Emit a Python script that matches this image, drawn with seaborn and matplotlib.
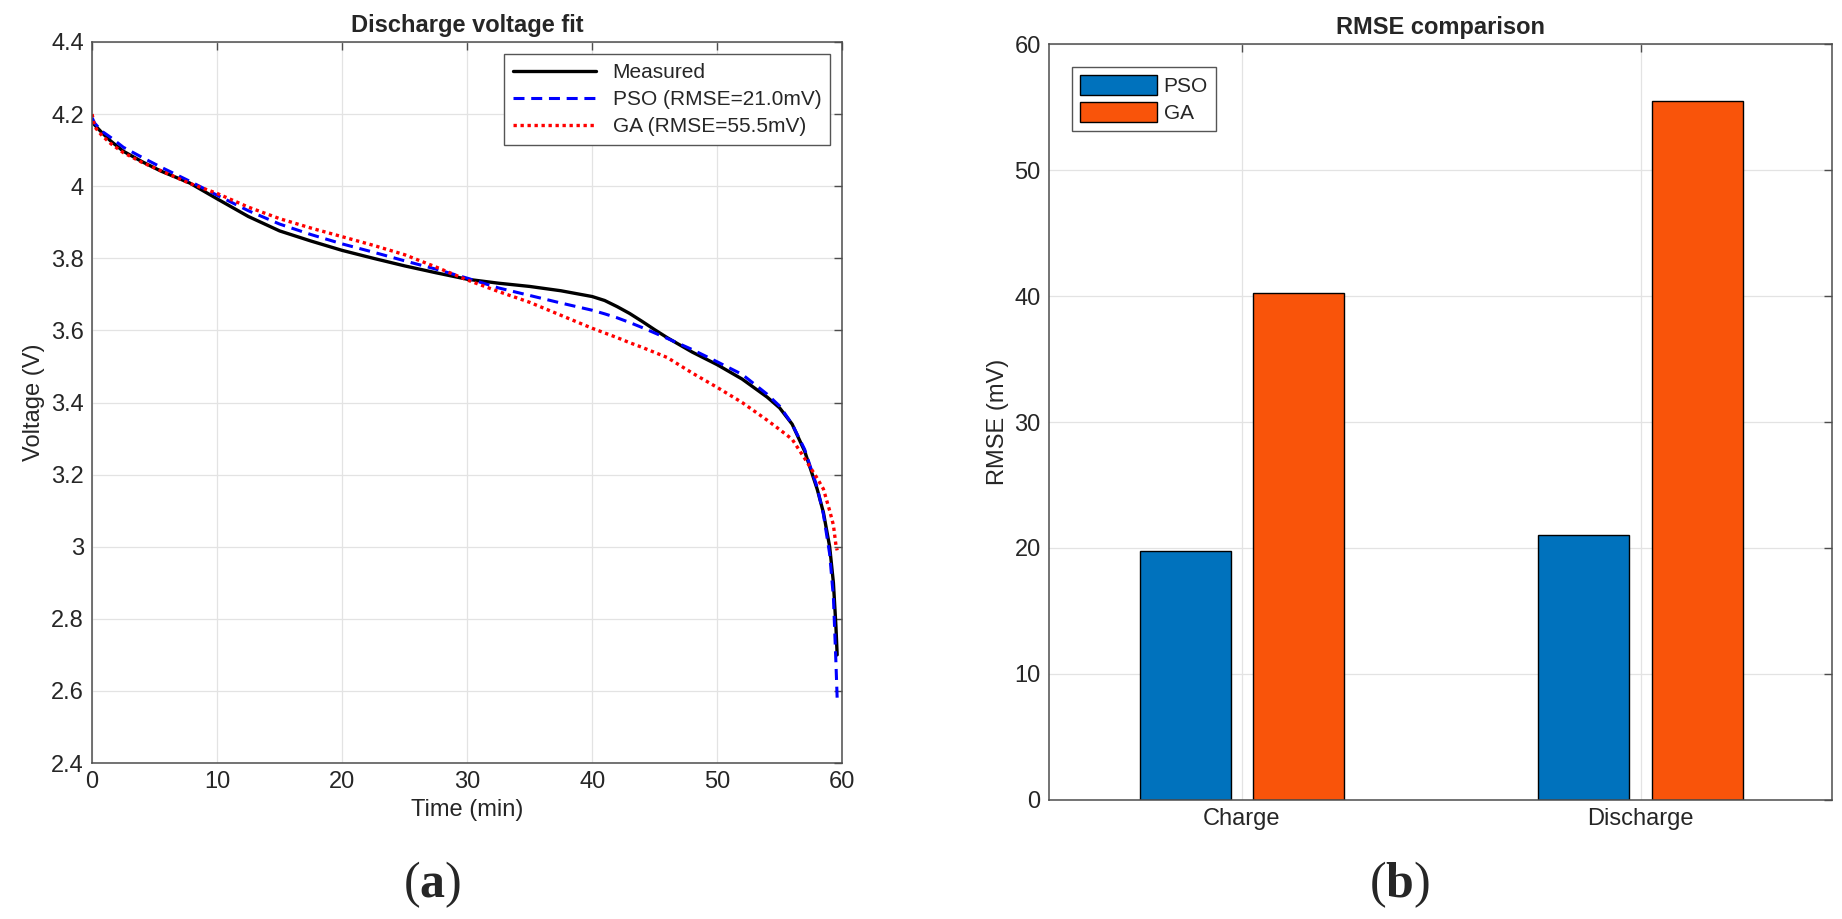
import matplotlib
matplotlib.use("Agg")
import matplotlib.pyplot as plt
import pandas as pd
import seaborn as sns
from matplotlib.ticker import FuncFormatter, MultipleLocator

# discharge curve
TIME_MIN = [0, 0.2, 0.8, 1.5, 2.5, 4, 5.5, 7.8, 10, 12.5, 15, 17.5, 20, 22.5, 25,
            27.5, 30, 32.5, 35, 37.5, 40, 41, 42, 43, 44, 45, 46, 48, 50, 52, 54,
            55, 56, 57, 58, 58.5, 59, 59.3, 59.5, 59.6]
MEASURED_V = [4.185, 4.170, 4.148, 4.125, 4.097, 4.068, 4.042, 4.009, 3.965, 3.916,
              3.876, 3.848, 3.822, 3.800, 3.779, 3.760, 3.742, 3.731, 3.722, 3.710,
              3.694, 3.683, 3.666, 3.647, 3.625, 3.602, 3.580, 3.540, 3.505, 3.465,
              3.415, 3.385, 3.340, 3.265, 3.160, 3.095, 3.000, 2.900, 2.780, 2.700]
PSO_V = [4.190, 4.175, 4.152, 4.135, 4.108, 4.080, 4.053, 4.014, 3.975, 3.932,
         3.895, 3.866, 3.840, 3.817, 3.793, 3.770, 3.745, 3.718, 3.697, 3.676,
         3.656, 3.646, 3.635, 3.622, 3.608, 3.593, 3.578, 3.547, 3.513, 3.478,
         3.423, 3.390, 3.340, 3.270, 3.165, 3.090, 2.980, 2.860, 2.680, 2.580]
GA_V = [4.200, 4.165, 4.140, 4.118, 4.093, 4.066, 4.043, 4.008, 3.980, 3.942,
        3.910, 3.884, 3.860, 3.836, 3.810, 3.776, 3.740, 3.708, 3.678, 3.642,
        3.606, 3.593, 3.580, 3.566, 3.553, 3.539, 3.525, 3.482, 3.442, 3.400,
        3.351, 3.325, 3.298, 3.245, 3.190, 3.160, 3.100, 3.060, 3.005, 2.990]

# RMSE bars, right panel
PHASES = ["Charge", "Discharge"]
METHODS = ["PSO", "GA"]
PSO_RMSE = [19.8, 21.0]
GA_RMSE = [40.2, 55.5]

BLUE = "#0072BD"
ORANGE = "#F9540A"
DARK = "#262626"
FS = 17

sns.set_style("white")
plt.rcParams["font.family"] = ["Liberation Sans", "DejaVu Sans"]
plt.rcParams["axes.edgecolor"] = "#4d4d4d"
plt.rcParams["axes.linewidth"] = 1.1
plt.rcParams["mathtext.fontset"] = "custom"
plt.rcParams["mathtext.bf"] = "Liberation Serif:bold"

fig = plt.figure(figsize=(18.42, 9.19), dpi=100)
ax1 = fig.add_axes([0.050, 0.1697, 0.4072, 0.7846])
ax2 = fig.add_axes([0.5695, 0.1295, 0.4251, 0.8226])

# ---- left: discharge voltage fit ----
sns.lineplot(x=TIME_MIN, y=MEASURED_V, ax=ax1, color="black", lw=2.4, label="Measured")
sns.lineplot(x=TIME_MIN, y=PSO_V, ax=ax1, color="blue", lw=2.2,
             linestyle=(0, (3.6, 2.2)), label="PSO (RMSE=21.0mV)")
sns.lineplot(x=TIME_MIN, y=GA_V, ax=ax1, color="red", lw=2.4,
             linestyle=(0, (1, 1.1)), label="GA (RMSE=55.5mV)")

ax1.set_xlim(0, 60)
ax1.set_ylim(2.4, 4.4)
ax1.xaxis.set_major_locator(MultipleLocator(10))
ax1.yaxis.set_major_locator(MultipleLocator(0.2))
ax1.yaxis.set_major_formatter(FuncFormatter(lambda v, p: f"{v:g}"))
ax1.set_xlabel("Time (min)", fontsize=FS, color=DARK)
ax1.set_ylabel("Voltage (V)", fontsize=FS, color=DARK)
ax1.set_title("Discharge voltage fit", fontsize=FS, fontweight="bold", pad=7)
leg1 = ax1.legend(loc="upper right", fancybox=False, edgecolor="#555555", framealpha=1,
                  fontsize=15, handlelength=4.0, borderaxespad=0.6, labelspacing=0.4)
leg1.get_frame().set_linewidth(1.0)

# ---- right: RMSE comparison ----
bars = pd.DataFrame({
    "phase": PHASES * 2,
    "method": [METHODS[0]] * len(PHASES) + [METHODS[1]] * len(PHASES),
    "rmse": PSO_RMSE + GA_RMSE,
})
sns.barplot(data=bars, x="phase", y="rmse", hue="method", hue_order=METHODS,
            palette=[BLUE, ORANGE], saturation=1, width=0.57, gap=0.2,
            edgecolor="black", linewidth=1.0, errorbar=None, ax=ax2)
ax2.set_xlim(-0.484, 1.48)
ax2.set_ylim(0, 60)
ax2.yaxis.set_major_locator(MultipleLocator(10))
ax2.set_xlabel("")
ax2.set_ylabel("RMSE (mV)", fontsize=FS, color=DARK)
ax2.set_title("RMSE comparison", fontsize=FS, fontweight="bold", pad=7)
handles, labels = ax2.get_legend_handles_labels()
leg2 = ax2.legend(handles, labels, loc="upper left", fancybox=False, edgecolor="#555555",
                  framealpha=1, fontsize=15, handlelength=3.7, handleheight=1.05,
                  borderaxespad=1.1, labelspacing=0.3, handletextpad=0.3)
leg2.get_frame().set_linewidth(1.0)

for ax in (ax1, ax2):
    ax.set_axisbelow(True)
    ax.grid(True, color="#e3e3e3", lw=0.9)
    ax.tick_params(direction="in", top=True, right=True, length=6, width=1,
                   labelsize=FS, labelcolor=DARK, color="#4d4d4d", pad=6)
    for spine in ax.spines.values():
        spine.set_visible(True)

# panel letters: regular brackets, bold letter
fig.text(0.2345, 0.037, r"($\mathbf{a}$)", ha="center", va="center", fontsize=36,
         family=["Liberation Serif", "DejaVu Serif"])
fig.text(0.760, 0.037, r"($\mathbf{b}$)", ha="center", va="center", fontsize=36,
         family=["Liberation Serif", "DejaVu Serif"])

fig.savefig("out.png", dpi=100, facecolor="white")
